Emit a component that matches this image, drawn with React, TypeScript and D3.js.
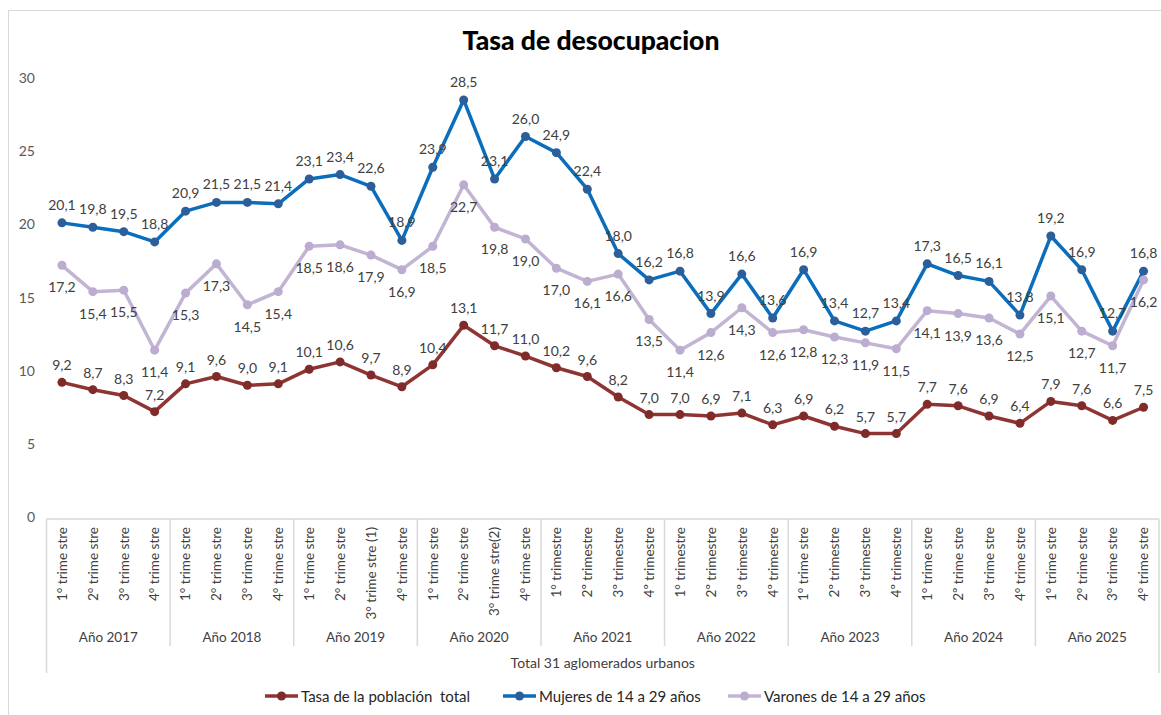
import React from "react";
import * as d3 from "d3";

const years = ["Año 2017", "Año 2018", "Año 2019", "Año 2020", "Año 2021", "Año 2022", "Año 2023", "Año 2024", "Año 2025"];

const quarterLabels = [
  "1° trime stre", "2° trime stre", "3° trime stre", "4° trime stre",
  "1° trime stre", "2° trime stre", "3° trime stre", "4° trime stre",
  "1° trime stre", "2° trime stre", "3° trime stre (1)", "4° trime stre",
  "1° trime stre", "2° trime stre", "3° trime stre(2)", "4° trime stre",
  "1° trimestre", "2º trimestre", "3º trimestre", "4º trimestre",
  "1° trimestre", "2º trimestre", "3º trimestre", "4º trimestre",
  "1° trime stre", "2º trimestre", "3º trimestre", "4º trimestre",
  "1° trime stre", "2º trime stre", "3º trime stre", "4° trime stre",
  "1° trime stre", "2° trime stre", "3° trime stre", "4° trime stre",
];

const total = [9.2, 8.7, 8.3, 7.2, 9.1, 9.6, 9.0, 9.1, 10.1, 10.6, 9.7, 8.9, 10.4, 13.1, 11.7, 11.0, 10.2, 9.6, 8.2, 7.0, 7.0, 6.9, 7.1, 6.3, 6.9, 6.2, 5.7, 5.7, 7.7, 7.6, 6.9, 6.4, 7.9, 7.6, 6.6, 7.5];
const mujeres = [20.1, 19.8, 19.5, 18.8, 20.9, 21.5, 21.5, 21.4, 23.1, 23.4, 22.6, 18.9, 23.9, 28.5, 23.1, 26.0, 24.9, 22.4, 18.0, 16.2, 16.8, 13.9, 16.6, 13.6, 16.9, 13.4, 12.7, 13.4, 17.3, 16.5, 16.1, 13.8, 19.2, 16.9, 12.7, 16.8];
const varones = [17.2, 15.4, 15.5, 11.4, 15.3, 17.3, 14.5, 15.4, 18.5, 18.6, 17.9, 16.9, 18.5, 22.7, 19.8, 19.0, 17.0, 16.1, 16.6, 13.5, 11.4, 12.6, 14.3, 12.6, 12.8, 12.3, 11.9, 11.5, 14.1, 13.9, 13.6, 12.5, 15.1, 12.7, 11.7, 16.2];

const yTicks = [0, 5, 10, 15, 20, 25, 30];

const seriesNames = ["Tasa de la población  total", "Mujeres de 14 a 29 años", "Varones de 14 a 29 años"];

const FONT = "Lato, 'Open Sans', sans-serif";

export default function App() {
  const W = 1161, H = 715;
  const left = 46.5, right = 1159, top = 78, bottom = 517;
  const x = d3.scaleBand<number>().domain(d3.range(quarterLabels.length)).range([left, right]).padding(0);
  const bw = x.bandwidth();
  const cx = (i: number) => (x(i) as number) + bw / 2;
  const y = d3.scaleLinear().domain([0, 30]).range([bottom, top]);
  const line = d3.line<number>().x((_, i) => cx(i)).y((d) => y(d));
  const fmt = (v: number) => v.toFixed(1).replace(".", ",");

  const series = [
    { name: seriesNames[0], data: total, line: "#8E3533", marker: "#7F2B29", labelDy: -12 },
    { name: seriesNames[1], data: mujeres, line: "#0A6EBD", marker: "#2C5F9A", labelDy: -13 },
    { name: seriesNames[2], data: varones, line: "#C2B4D3", marker: "#BBACD0", labelDy: 27 },
  ];

  const legendX = [265, 503, 728];

  return (
    <svg width={W} height={H} style={{ position: "absolute", left: 0, top: 0, background: "#fff" }} fontFamily={FONT}>
      <rect x={8.5} y={10.5} width={1160} height={710} fill="#fff" stroke="#D9D9D9" strokeWidth={1} />
      <text x={591} y={50} textAnchor="middle" fontSize={26.5} fontWeight="900" fill="#000">Tasa de desocupacion</text>

      {yTicks.map((t) => (
        <text key={t} x={35} y={y(t) + 5} textAnchor="end" fontSize={14} fill="#595959">{t}</text>
      ))}

      {/* category axis */}
      <line x1={left} x2={right} y1={bottom + 2} y2={bottom + 2} stroke="#D9D9D9" strokeWidth={1.5} />
      {years.map((yr, k) => {
        const x0 = x(k * 4) as number;
        const x1 = (x(k * 4 + 3) as number) + bw;
        return (
          <text key={yr} x={(x0 + x1) / 2} y={642} textAnchor="middle" fontSize={13.5} fill="#404040">{yr}</text>
        );
      })}
      {d3.range(years.length + 1).map((k) => {
        const xx = k === years.length ? right : (x(k * 4) as number);
        const outer = k === 0 || k === years.length;
        return <line key={k} x1={xx} x2={xx} y1={bottom + 2} y2={outer ? 673 : 646} stroke="#D9D9D9" strokeWidth={1.5} />;
      })}
      {quarterLabels.map((q, i) => (
        <text key={i} transform={`translate(${cx(i) + 4.8},527) rotate(-90)`} textAnchor="end" fontSize={13.5} fill="#404040">{q}</text>
      ))}
      <text x={(left + right) / 2} y={668} textAnchor="middle" fontSize={14} fill="#404040">Total 31 aglomerados urbanos</text>

      {series.map((s) => (
        <g key={s.name}>
          <path d={line(s.data) || ""} fill="none" stroke={s.line} strokeWidth={3.5} strokeLinejoin="round" />
          {s.data.map((v, i) => (
            <circle key={i} cx={cx(i)} cy={y(v)} r={4.5} fill={s.marker} />
          ))}
        </g>
      ))}
      {series.map((s) => (
        <g key={s.name + "l"}>
          {s.data.map((v, i) => (
            <text key={i} x={cx(i)} y={y(v) + s.labelDy} textAnchor="middle" fontSize={14} fill="#404040">{fmt(v)}</text>
          ))}
        </g>
      ))}

      {series.map((s, k) => (
        <g key={s.name + "lg"} transform={`translate(${legendX[k]},696)`}>
          <line x1={0} x2={33} y1={0} y2={0} stroke={s.line} strokeWidth={3.5} />
          <circle cx={16.5} cy={0} r={4.5} fill={s.marker} />
          <text x={36} y={5.5} fontSize={15} fill="#262626" style={{ whiteSpace: "pre" }}>{s.name}</text>
        </g>
      ))}
    </svg>
  );
}
